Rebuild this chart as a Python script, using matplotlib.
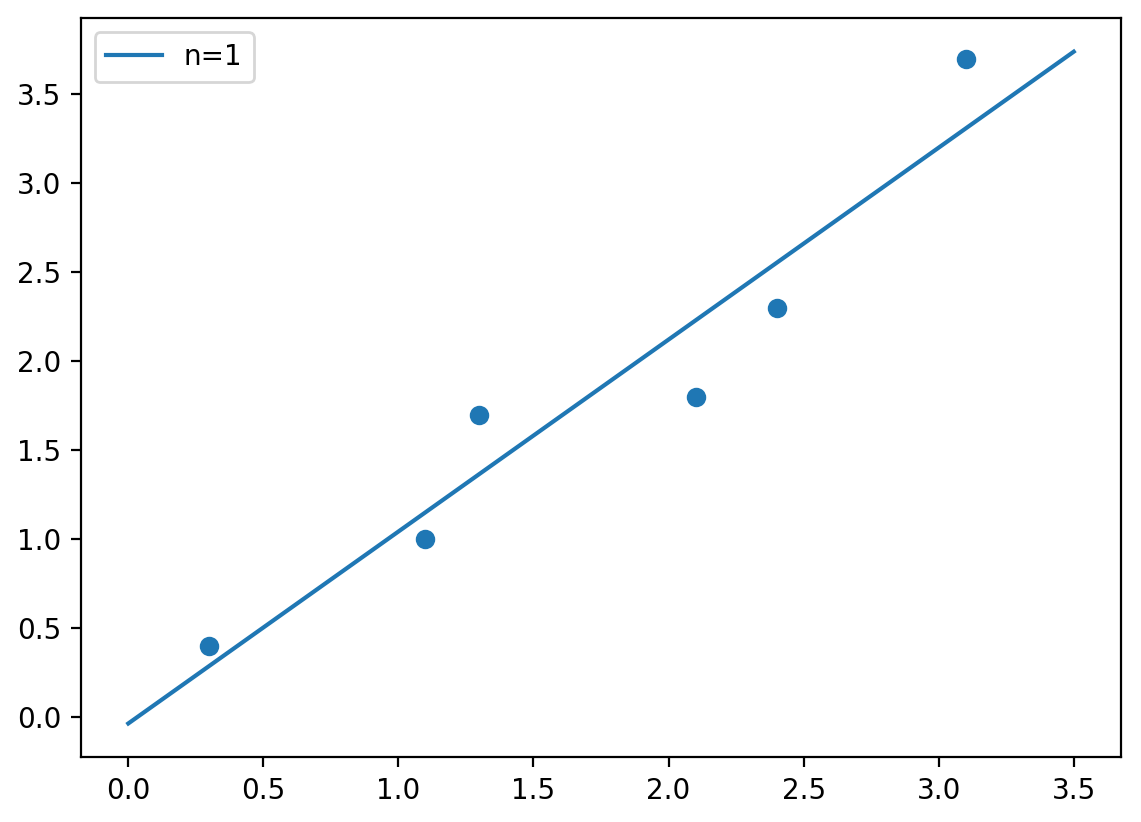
import numpy as np
import matplotlib
matplotlib.use("Agg")
import matplotlib.pyplot as plt

x_points = [0.3, 1.1, 1.3, 2.1, 2.4, 3.1]
y_points = [0.4, 1.0, 1.7, 1.8, 2.3, 3.7]
fit_degree = 1
fit_x_range = [0.0, 3.5]

coeffs = np.polyfit(x_points, y_points, fit_degree)
line_x = np.linspace(fit_x_range[0], fit_x_range[1], 100)
line_y = np.polyval(coeffs, line_x)

figure, axis = plt.subplots(figsize=(5.705, 4.11), dpi=200)
figure.subplots_adjust(left=0.071, right=0.9825, top=0.978, bottom=0.079)
axis.scatter(x_points, y_points)
axis.plot(line_x, line_y, label=f"n={fit_degree}")
axis.legend(loc="upper left")
figure.savefig("out.png", dpi=200)
plt.close(figure)
